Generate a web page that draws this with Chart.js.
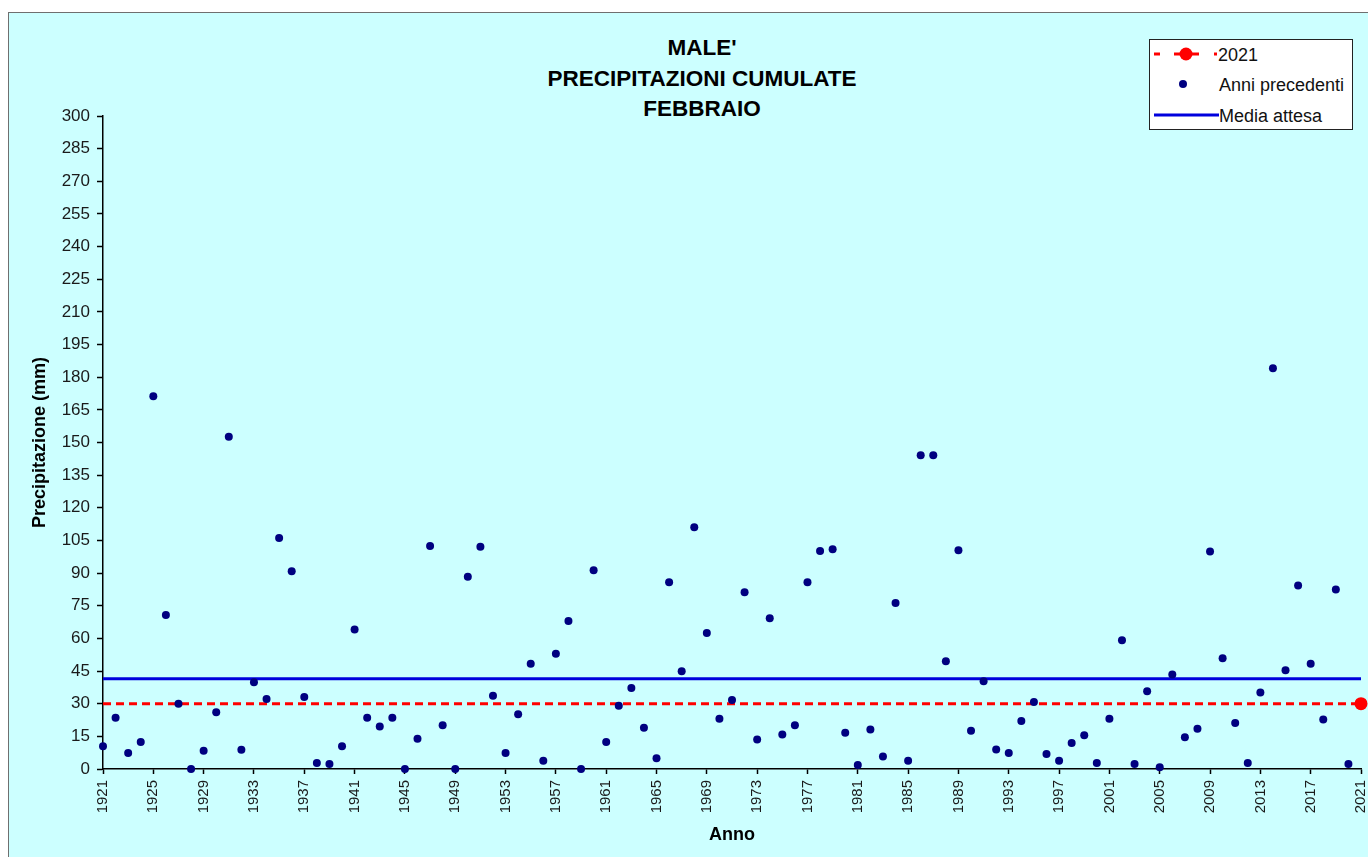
<!DOCTYPE html>
<html>
<head>
<meta charset="utf-8">
<script src="https://cdn.jsdelivr.net/npm/chart.js@4.4.1/dist/chart.umd.min.js"></script>
<style>
  body { margin: 0; width: 1368px; height: 857px; overflow: hidden; background: #fff; font-family: "Liberation Sans", Arial, sans-serif; position: relative; }
  #frame { position: absolute; left: 8px; top: 12px; width: 1380px; height: 870px; border: 1px solid #6f6f6f; background: #ccffff; }
  #chartBox { position: absolute; left: 9px; top: 13px; width: 1376px; height: 844px; }
  #title { position: absolute; left: 452px; top: 33px; width: 500px; text-align: center; font-weight: bold; font-size: 22.5px; line-height: 30.6px; color: #000; }
  #legend { position: absolute; left: 1149px; top: 39px; }
</style>
</head>
<body>
<div id="frame"></div>
<div id="title">MALE'<br>PRECIPITAZIONI CUMULATE<br>FEBBRAIO</div>
<div id="chartBox"><canvas id="myChart" width="1376" height="844"></canvas></div>
<svg id="legend" width="204" height="91" font-family="Liberation Sans, Arial, sans-serif" font-size="18">
  <rect x="0.5" y="0.5" width="203" height="90" fill="#fff" stroke="#222"/>
  <line x1="5" y1="15" x2="11" y2="15" stroke="#ff0000" stroke-width="3"/>
  <line x1="25" y1="15" x2="50" y2="15" stroke="#ff0000" stroke-width="3"/>
  <line x1="65" y1="15" x2="68" y2="15" stroke="#ff0000" stroke-width="3"/>
  <circle cx="37" cy="15" r="6.5" fill="#ff0000"/>
  <text x="69" y="21.5" fill="#111">2021</text>
  <circle cx="34" cy="45" r="4" fill="#000080"/>
  <text x="70" y="51.5" fill="#111">Anni precedenti</text>
  <line x1="5" y1="76" x2="70" y2="76" stroke="#0000dd" stroke-width="3"/>
  <text x="70" y="82.5" fill="#111">Media attesa</text>
</svg>
<script>
// categories (years)
const years = [
  1921, 1922, 1923, 1924, 1925, 1926, 1927, 1928, 1929, 1930,
  1931, 1932, 1933, 1934, 1935, 1936, 1937, 1938, 1939, 1940,
  1941, 1942, 1943, 1944, 1945, 1946, 1947, 1948, 1949, 1950,
  1951, 1952, 1953, 1954, 1955, 1956, 1957, 1958, 1959, 1960,
  1961, 1962, 1963, 1964, 1965, 1966, 1967, 1968, 1969, 1970,
  1971, 1972, 1973, 1974, 1975, 1976, 1977, 1978, 1979, 1980,
  1981, 1982, 1983, 1984, 1985, 1986, 1987, 1988, 1989, 1990,
  1991, 1992, 1993, 1994, 1995, 1996, 1997, 1998, 1999, 2000,
  2001, 2002, 2003, 2004, 2005, 2006, 2007, 2008, 2009, 2010,
  2011, 2012, 2013, 2014, 2015, 2016, 2017, 2018, 2019, 2020,
  2021
];

// precipitazioni di febbraio, anni 1921-2020 (mm)
const anniPrecedenti = [
  10.4, 23.6, 7.4, 12.4, 171.3, 70.7, 30.0, 0, 8.4, 26.1,
  152.6, 8.9, 39.8, 32.2, 106.1, 90.9, 33.1, 2.8, 2.3, 10.4,
  64.1, 23.6, 19.5, 23.6, 0, 13.9, 102.5, 20.1, 0, 88.3,
  102.1, 33.7, 7.4, 25.1, 48.4, 3.8, 53.0, 68.0, 0, 91.3,
  12.4, 29.1, 37.2, 19.0, 4.9, 85.8, 44.9, 111.1, 62.5, 23.1,
  31.7, 81.2, 13.5, 69.3, 15.9, 20.1, 85.8, 100.1, 101.0, 16.6,
  1.8, 18.1, 5.8, 76.3, 3.8, 144.1, 144.1, 49.5, 100.5, 17.6,
  40.3, 9.0, 7.4, 22.1, 30.8, 6.9, 3.8, 12.0, 15.5, 2.8,
  23.1, 59.2, 2.3, 35.7, 0.8, 43.4, 14.6, 18.5, 99.9, 50.9,
  21.1, 2.8, 35.2, 184.1, 45.4, 84.3, 48.4, 22.7, 82.5, 2.3
];

const valore2021 = 30;
const mediaAttesa = 41.5;

// labelled ticks on the x axis
const xTickLabels = [
  1921, 1925, 1929, 1933, 1937, 1941, 1945, 1949, 1953, 1957, 1961, 1965, 1969,
  1973, 1977, 1981, 1985, 1989, 1993, 1997, 2001, 2005, 2009, 2013, 2017, 2021
];

const firstLabel = String(years[0]);
const lastLabel = String(years[years.length - 1]);

const ctx = document.getElementById('myChart').getContext('2d');

const data = {
  labels: years.map(String),
  datasets: [
    {
      label: 'Anni precedenti',
      data: anniPrecedenti,
      showLine: false,
      pointRadius: 4,
      pointHoverRadius: 4,
      pointBackgroundColor: '#000080',
      pointBorderColor: '#000080',
      pointBorderWidth: 0,
      clip: false,
      order: 0
    },
    {
      label: '2021',
      data: [{ x: firstLabel, y: valore2021 }, { x: lastLabel, y: valore2021 }],
      borderColor: '#ff0000',
      borderWidth: 3,
      borderDash: [8, 5],
      pointRadius: [0, 6.5],
      pointBackgroundColor: '#ff0000',
      pointBorderColor: '#ff0000',
      pointBorderWidth: 0,
      clip: false,
      order: 1
    },
    {
      label: 'Media attesa',
      data: [{ x: firstLabel, y: mediaAttesa }, { x: lastLabel, y: mediaAttesa }],
      borderColor: '#0000dd',
      borderWidth: 3,
      pointRadius: 0,
      clip: false,
      order: 2
    }
  ]
};

const options = {
  responsive: false,
  animation: false,
  layout: {
    padding: { left: 10, top: 103, right: 7, bottom: 0 }
  },
  plugins: {
    legend: { display: false },
    title: { display: false },
    tooltip: { enabled: false }
  },
  scales: {
    x: {
      offset: false,
      afterFit: (scale) => { scale.height = 88; },
      border: { color: '#000', width: 1.5 },
      grid: {
        drawOnChartArea: false,
        drawTicks: true,
        tickLength: 5,
        tickWidth: 1.5,
        tickColor: (c) => xTickLabels.includes(years[c.index]) ? '#000' : 'rgba(0,0,0,0)'
      },
      ticks: {
        autoSkip: false,
        minRotation: 90,
        maxRotation: 90,
        padding: 6,
        color: '#1a1a1a',
        font: { family: 'Liberation Sans', size: 15 },
        callback: function (value) {
          const lab = this.getLabelForValue(value);
          return xTickLabels.includes(Number(lab)) ? lab : '';
        }
      },
      title: {
        display: true,
        text: 'Anno',
        color: '#000',
        font: { family: 'Liberation Sans', size: 18, weight: 'bold' },
        padding: { top: 0, bottom: 11 }
      }
    },
    y: {
      min: 0,
      max: 300,
      afterFit: (scale) => { scale.width = 84; },
      border: { color: '#000', width: 1.5 },
      grid: {
        drawOnChartArea: false,
        drawTicks: true,
        tickLength: 6,
        tickWidth: 1.5,
        tickColor: '#000'
      },
      ticks: {
        stepSize: 15,
        padding: 7,
        color: '#1a1a1a',
        font: { family: 'Liberation Sans', size: 17 }
      },
      title: {
        display: true,
        text: 'Precipitazione (mm)',
        color: '#000',
        font: { family: 'Liberation Sans', size: 18, weight: 'bold' },
        padding: { top: 10, bottom: 0 }
      }
    }
  }
};

new Chart(ctx, { type: 'line', data: data, options: options });
</script>
</body>
</html>
